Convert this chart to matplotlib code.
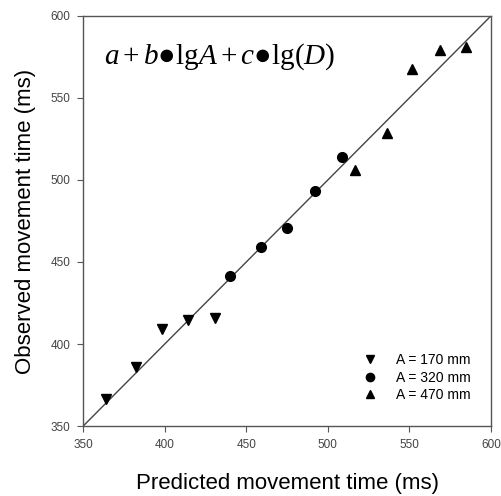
import matplotlib
matplotlib.use('Agg')
import matplotlib.pyplot as plt

plt.rcParams['font.family'] = ['Liberation Sans', 'DejaVu Sans']
plt.rcParams['mathtext.fontset'] = 'custom'
plt.rcParams['mathtext.rm'] = 'Liberation Serif'
plt.rcParams['mathtext.it'] = 'Liberation Serif:italic'

# A = 170 mm
pred_170 = [363.7, 382.5, 398.6, 414.5, 431.0]
obs_170 = [366.5, 385.8, 409.1, 414.6, 415.7]
# A = 320 mm
pred_320 = [440.3, 459.1, 475.0, 491.9, 508.5]
obs_320 = [441.6, 459.3, 470.5, 493.3, 513.8]
# A = 470 mm
pred_470 = [516.4, 536.3, 551.6, 568.5, 584.9]
obs_470 = [506.1, 528.5, 567.5, 579.3, 580.9]

ticks = [350, 400, 450, 500, 550, 600]

fig = plt.figure(figsize=(5.01, 4.96), dpi=100)
ax = fig.add_axes([0.166, 0.141, 0.814, 0.827])

ax.plot([350, 600], [350, 600], color='#444444', lw=1.0, zorder=1)
ax.plot(pred_170, obs_170, 'v', color='black', markersize=7.5, label='A = 170 mm', zorder=2)
ax.plot(pred_320, obs_320, 'o', color='black', markersize=7, label='A = 320 mm', zorder=2)
ax.plot(pred_470, obs_470, '^', color='black', markersize=7.5, label='A = 470 mm', zorder=2)

ax.set_xlim(350, 600)
ax.set_ylim(350, 600)
ax.set_xticks(ticks)
ax.set_yticks(ticks)
ax.tick_params(direction='out', length=4, width=0.8, labelsize=8.5, pad=5,
               labelcolor='#444444', color='#555555')
for s in ax.spines.values():
    s.set_color('#555555')
    s.set_linewidth(1.0)

ax.set_xlabel('Predicted movement time (ms)', fontsize=16, labelpad=16)
ax.set_ylabel('Observed movement time (ms)', fontsize=16, labelpad=11)

ax.text(0.052, 0.9, '$a + b$\u25cf$\\mathrm{lg}A + c$\u25cf$\\mathrm{lg}(D)$',
        transform=ax.transAxes, fontsize=21, va='center', ha='left',
        family=['Liberation Serif', 'DejaVu Serif'])

ax.legend(loc='lower right', frameon=False, fontsize=10, handletextpad=0.9,
          labelspacing=0.25, bbox_to_anchor=(0.975, 0.035), borderpad=0.2,
          markerscale=0.85)

fig.savefig('out.png', dpi=100)
